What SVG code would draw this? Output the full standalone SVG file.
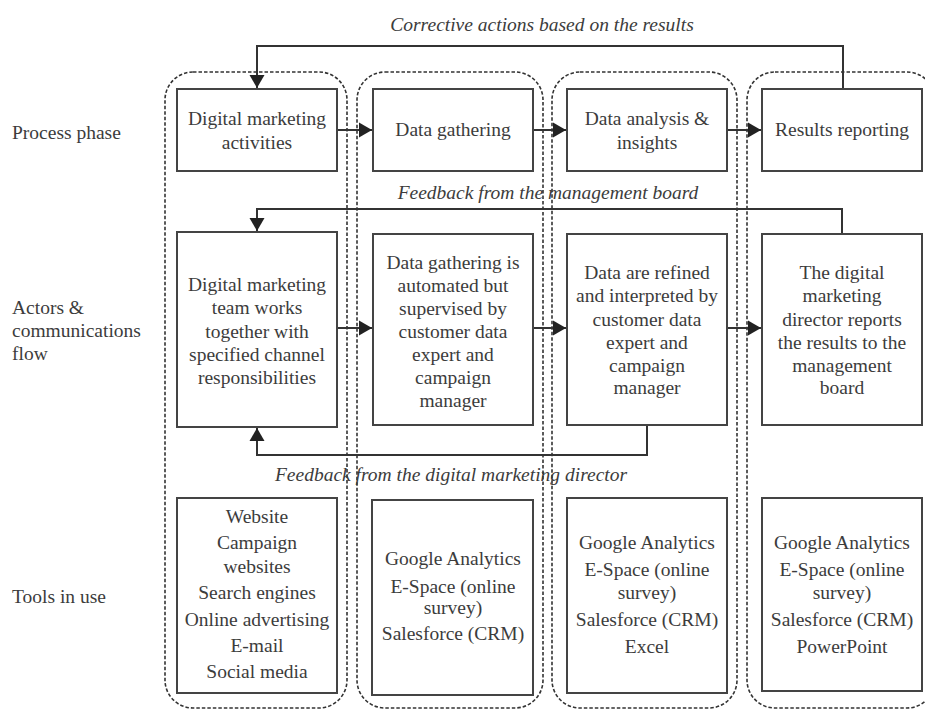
<svg xmlns="http://www.w3.org/2000/svg" width="925" height="709" viewBox="0 0 925 709">
<style>
text{font-family:"Liberation Serif","Times New Roman",serif;font-size:19.5px;fill:#3c3c3c}
.c{text-anchor:middle}
.i{font-style:italic}
.box{fill:none;stroke:#444;stroke-width:2}
.lane{fill:none;stroke:#333;stroke-width:1.6;stroke-dasharray:3.5 2}
.conn{fill:none;stroke:#333;stroke-width:2}
</style>
<defs>
<marker id="ah" markerUnits="userSpaceOnUse" markerWidth="18" markerHeight="18" viewBox="0 0 18 18" refX="15" refY="9" orient="auto">
<path d="M2,1.5 L15,9 L2,16.5 Z" fill="#222"/>
</marker>
</defs>
<rect width="925" height="709" fill="#fff"/>

<g id="row-labels">
<text x="12" y="139">Process phase</text>
<text x="12" y="314">Actors &amp;</text>
<text x="12" y="337">communications</text>
<text x="12" y="360">flow</text>
<text x="12" y="603">Tools in use</text>
</g>

<g id="lanes">
<rect id="lane1" class="lane" x="165" y="72" width="182" height="636" rx="28"/>
<rect id="lane2" class="lane" x="357" y="72" width="186" height="636" rx="28"/>
<rect id="lane3" class="lane" x="552" y="72" width="185" height="636" rx="28"/>
<rect id="lane4" class="lane" x="747" y="72" width="188" height="636" rx="28"/>
</g>

<g id="connectors">
<path class="conn" d="M337,130 H372" marker-end="url(#ah)"/>
<path class="conn" d="M533,130 H566" marker-end="url(#ah)"/>
<path class="conn" d="M727,130 H761" marker-end="url(#ah)"/>
<path class="conn" d="M337,328 H372" marker-end="url(#ah)"/>
<path class="conn" d="M533,328 H566" marker-end="url(#ah)"/>
<path class="conn" d="M727,328 H761" marker-end="url(#ah)"/>
<path class="conn" d="M843,89 V46 H257 V88" marker-end="url(#ah)"/>
<path class="conn" d="M842,233 V209 H257 V231" marker-end="url(#ah)"/>
<path class="conn" d="M647,425 V455 H257 V428" marker-end="url(#ah)"/>
</g>

<g id="connector-labels">
<text class="c i" x="542" y="31">Corrective actions based on the results</text>
<text class="c i" x="548" y="199">Feedback from the management board</text>
<text class="c i" x="451" y="481">Feedback from the digital marketing director</text>
</g>

<g id="p1">
<rect class="box" x="177" y="89" width="160" height="82"/>
<text class="c" x="257" y="125">Digital marketing</text>
<text class="c" x="257" y="149">activities</text>
</g>
<g id="p2">
<rect class="box" x="373" y="89" width="160" height="82"/>
<text class="c" x="453" y="136">Data gathering</text>
</g>
<g id="p3">
<rect class="box" x="567" y="89" width="160" height="82"/>
<text class="c" x="647" y="125">Data analysis &amp;</text>
<text class="c" x="647" y="149">insights</text>
</g>
<g id="p4">
<rect class="box" x="762" y="89" width="160" height="82"/>
<text class="c" x="842" y="136">Results reporting</text>
</g>

<g id="a1">
<rect class="box" x="177" y="232" width="160" height="195"/>
<text class="c" x="257" y="291">Digital marketing</text>
<text class="c" x="257" y="314">team works</text>
<text class="c" x="257" y="338">together with</text>
<text class="c" x="257" y="361">specified channel</text>
<text class="c" x="257" y="384">responsibilities</text>
</g>
<g id="a2">
<rect class="box" x="373" y="234" width="160" height="191"/>
<text class="c" x="453" y="269">Data gathering is</text>
<text class="c" x="453" y="292">automated but</text>
<text class="c" x="453" y="315">supervised by</text>
<text class="c" x="453" y="338">customer data</text>
<text class="c" x="453" y="361">expert and</text>
<text class="c" x="453" y="384">campaign</text>
<text class="c" x="453" y="407">manager</text>
</g>
<g id="a3">
<rect class="box" x="567" y="234" width="160" height="191"/>
<text class="c" x="647" y="279">Data are refined</text>
<text class="c" x="647" y="302">and interpreted by</text>
<text class="c" x="647" y="326">customer data</text>
<text class="c" x="647" y="349">expert and</text>
<text class="c" x="647" y="372">campaign</text>
<text class="c" x="647" y="394">manager</text>
</g>
<g id="a4">
<rect class="box" x="762" y="234" width="160" height="191"/>
<text class="c" x="842" y="279">The digital</text>
<text class="c" x="842" y="302">marketing</text>
<text class="c" x="842" y="326">director reports</text>
<text class="c" x="842" y="349">the results to the</text>
<text class="c" x="842" y="372">management</text>
<text class="c" x="842" y="394">board</text>
</g>

<g id="t1">
<rect class="box" x="177" y="498" width="160" height="195"/>
<text class="c" x="257" y="523">Website</text>
<text class="c" x="257" y="549">Campaign</text>
<text class="c" x="257" y="573">websites</text>
<text class="c" x="257" y="599">Search engines</text>
<text class="c" x="257" y="626">Online advertising</text>
<text class="c" x="257" y="652">E-mail</text>
<text class="c" x="257" y="678">Social media</text>
</g>
<g id="t2">
<rect class="box" x="372" y="500" width="161" height="195"/>
<text class="c" x="453" y="565">Google Analytics</text>
<text class="c" x="453" y="593">E-Space (online</text>
<text class="c" x="453" y="614">survey)</text>
<text class="c" x="453" y="640">Salesforce (CRM)</text>
</g>
<g id="t3">
<rect class="box" x="567" y="498" width="160" height="195"/>
<text class="c" x="647" y="549">Google Analytics</text>
<text class="c" x="647" y="576">E-Space (online</text>
<text class="c" x="647" y="599">survey)</text>
<text class="c" x="647" y="626">Salesforce (CRM)</text>
<text class="c" x="647" y="653">Excel</text>
</g>
<g id="t4">
<rect class="box" x="762" y="498" width="160" height="193"/>
<text class="c" x="842" y="549">Google Analytics</text>
<text class="c" x="842" y="576">E-Space (online</text>
<text class="c" x="842" y="599">survey)</text>
<text class="c" x="842" y="626">Salesforce (CRM)</text>
<text class="c" x="842" y="653">PowerPoint</text>
</g>
</svg>
